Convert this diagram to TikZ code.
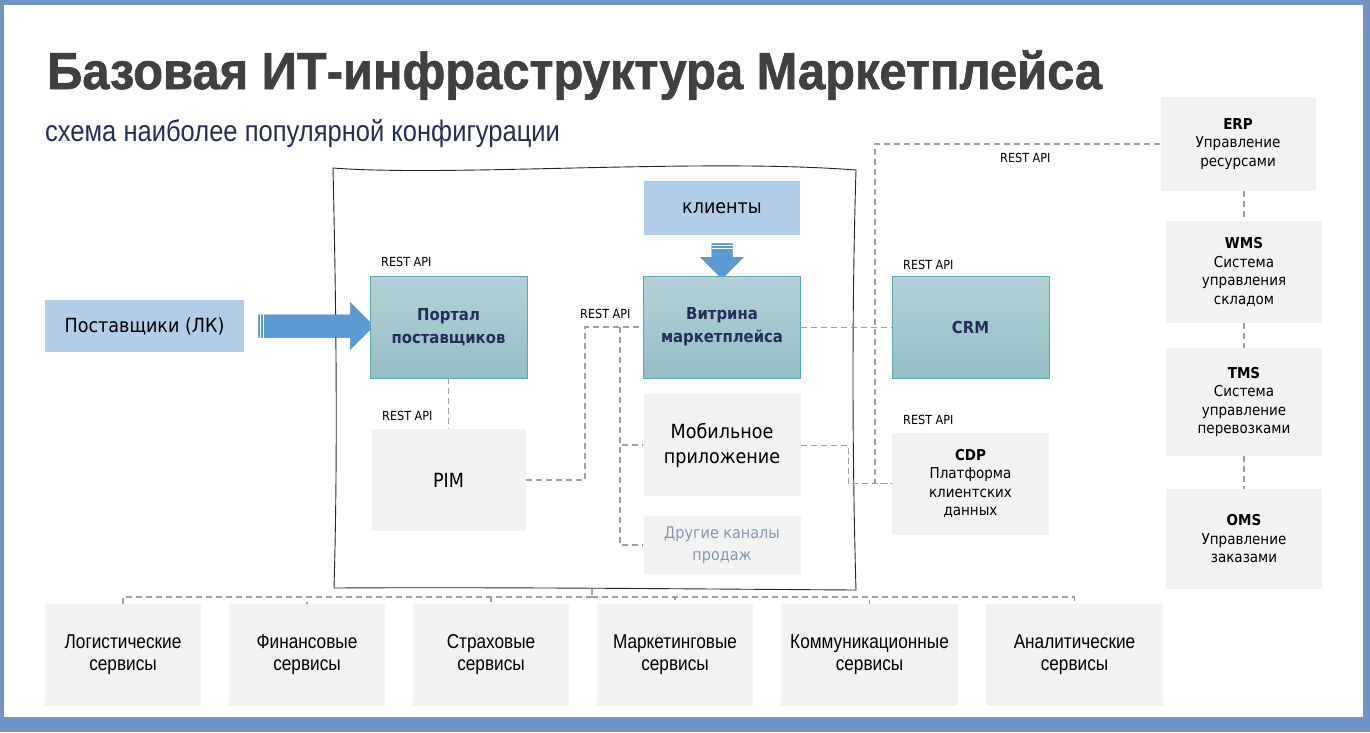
\documentclass[tikz,border=0pt]{standalone}
\usepackage{fontspec}
\setmainfont{Liberation Sans}
\newfontfamily\tah[FakeStretch=0.9]{DejaVu Sans}
\newfontfamily\narrow[FakeStretch=0.86]{Liberation Sans}
\newfontfamily\heavy[FakeStretch=0.94, FakeBold=1.2]{Liberation Sans Bold}
\usetikzlibrary{positioning, shapes.arrows}

\definecolor{frameblue}{HTML}{7094C2}
\definecolor{skyblue}{HTML}{B1CDE7}
\definecolor{tealtop}{HTML}{B3D2D6}
\definecolor{tealbot}{HTML}{93BEC4}
\definecolor{tealline}{HTML}{5AA7AF}
\definecolor{pale}{HTML}{F2F2F2}
\definecolor{navy}{HTML}{262D58}
\definecolor{arrowblue}{HTML}{5B9BD3}
\definecolor{linkgray}{HTML}{A69BAB}
\definecolor{dim}{HTML}{8497B0}
\definecolor{ink}{HTML}{404040}

\tikzset{
  box/.style={rectangle, inner sep=0pt, align=center, minimum width=157pt, minimum height=102pt,
    font=\tah\fontsize{19.5}{25}\selectfont},
  core/.style={box, draw=tealline, line width=0.8pt, top color=tealtop, bottom color=tealbot,
    text=navy, font=\tah\bfseries\fontsize{16.5}{23}\selectfont},
  plain/.style={box, fill=pale},
  client/.style={box, fill=skyblue},
  side/.style={plain, minimum width=156pt, font=\tah\fontsize{15}{18.5}\selectfont},
  svc/.style={plain, minimum width=156pt, font=\narrow\fontsize{20}{22}\selectfont},
  api/.style={anchor=west, inner sep=0pt, font=\tah\fontsize{12.5}{14}\selectfont},
  link/.style={draw=linkgray, line width=1.3pt, dash pattern=on 6pt off 4pt},
  blockarrow/.style={single arrow, fill=arrowblue, draw=arrowblue!85!black, line width=0.5pt,
    single arrow tip angle=90},
  stripe/.style={draw=white, line width=0.7pt}
}

\begin{document}
\begin{tikzpicture}[x=1pt, y=-1pt]
  \useasboundingbox (0,0) rectangle (1370,732);
  \fill[frameblue] (0,0) rectangle (1370,732);
  \fill[white] (4,5) rectangle (1363,717);

  % heading
  \node[anchor=base west, inner sep=0pt, text=ink, font=\heavy\fontsize{52}{52}\selectfont] (title) at (47,89)
    {Базовая ИТ-инфраструктура Маркетплейса};
  \node[anchor=base west, inner sep=0pt, text=navy, font=\narrow\fontsize{29.7}{30}\selectfont] (subtitle) at (45,141)
    {схема наиболее популярной конфигурации};

  % marketplace core (hand drawn frame)
  \draw[line width=0.9pt, black!85] (333,168) .. controls (450,177) and (700,158) .. (856,170)
    .. controls (852,300) and (852,450) .. (856,590) .. controls (700,589) and (500,587) .. (334,588)
    .. controls (338,450) and (336,300) .. (333,168) -- cycle;
  \coordinate (hub) at (592,589);

  \node[client, minimum width=199pt, minimum height=52pt] (supp) at (144.5,326) {Поставщики (ЛК)};
  \node[blockarrow, minimum height=115pt, inner xsep=0pt, inner ysep=11pt, single arrow head extend=12pt] (supparrow) at (310.5,326) {};
  \draw[stripe] ([shift={(2,0)}]supparrow.before tail) -- ([shift={(2,0)}]supparrow.after tail);
  \draw[stripe] ([shift={(4.5,0)}]supparrow.before tail) -- ([shift={(4.5,0)}]supparrow.after tail);

  \node[core] (portal) at (448.5,327) {Портал\\поставщиков};
  \node[plain, minimum width=154pt] (pim) at (448.5,480) {PIM};

  \node[client, minimum width=156pt, minimum height=54pt] (clients) at (722,208) {клиенты};
  \node[blockarrow, minimum height=35pt, inner xsep=10pt, inner ysep=0pt, single arrow head extend=11pt, shape border rotate=270] (clientarrow) at (722,256) {};
  \draw[stripe] ([shift={(0,2)}]clientarrow.before tail) -- ([shift={(0,2)}]clientarrow.after tail);
  \draw[stripe] ([shift={(0,4.5)}]clientarrow.before tail) -- ([shift={(0,4.5)}]clientarrow.after tail);
  \node[core] (shop) at (722,327) {Витрина\\маркетплейса};
  \node[plain] (mobile) at (722,445) {Мобильное\\приложение};
  \node[plain, minimum height=58pt, text=dim, font=\tah\fontsize{16}{22}\selectfont] (other) at (722,545) {Другие каналы\\продаж};

  \node[core] (crm) at (970.5,327) {CRM};
  \node[side, minimum width=157pt] (cdp) at (970.5,483.5) {\textbf{CDP}\\Платформа\\клиентских\\данных};

  % back office
  \node[side, minimum width=155pt, minimum height=94pt] (erp) at (1238,144) {\textbf{ERP}\\Управление\\ресурсами};
  \node[side] (wms) at (1244,272) {\textbf{WMS}\\Система\\управления\\складом};
  \node[side, minimum height=108pt] (tms) at (1244,402) {\textbf{TMS}\\Система\\управление\\перевозками};
  \node[side, minimum height=100pt] (oms) at (1244,539) {\textbf{OMS}\\Управление\\заказами};

  % services
  \node[svc] (s1) at (123,655) {Логистические\\сервисы};
  \node[svc] (s2) at (307,655) {Финансовые\\сервисы};
  \node[svc] (s3) at (491,655) {Страховые\\сервисы};
  \node[svc] (s4) at (675,655) {Маркетинговые\\сервисы};
  \node[svc, minimum width=177pt] (s5) at (869.5,655) {Коммуникационные\\сервисы};
  \node[svc, minimum width=177pt] (s6) at (1074.5,655) {Аналитические\\сервисы};

  % api labels
  \node[api] (api1) at (381,262) {REST API};
  \node[api] (api2) at (580,314) {REST API};
  \node[api] (api3) at (382,416) {REST API};
  \node[api] (api4) at (903,265) {REST API};
  \node[api] (api5) at (903,420) {REST API};
  \node[api] (api6) at (1000,158) {REST API};

  % links
  \coordinate (bendA) at (585,327);
  \coordinate (bendB) at (620,327);
  \coordinate (bendC) at (875,483.5);
  \coordinate (bendD) at (848,445);
  \coordinate (bus) at (592,597);

  \draw[link] (portal) -- (pim);
  \draw[link] (pim.east) -| (bendA) -- (shop.west);
  \draw[link] (bendB) |- (mobile.west);
  \draw[link] (bendB) |- (other.west);
  \draw[link, line width=1pt] (shop.east) -- (crm.west);
  \draw[link] (erp.west) -| (bendC) -- (cdp.west);
  \draw[link, line width=1pt] (mobile.east) -- (bendD) |- (cdp.west);
  \draw[link] (wms.north |- erp.south) -- (wms.north);
  \draw[link] (wms) -- (tms);
  \draw[link] (tms) -- (oms);
  \draw[link] (hub) -- (bus);
  \foreach \s in {s1,s2,s3,s4,s5,s6}
    \draw[link] (bus) -| (\s.north);
\end{tikzpicture}
\end{document}
